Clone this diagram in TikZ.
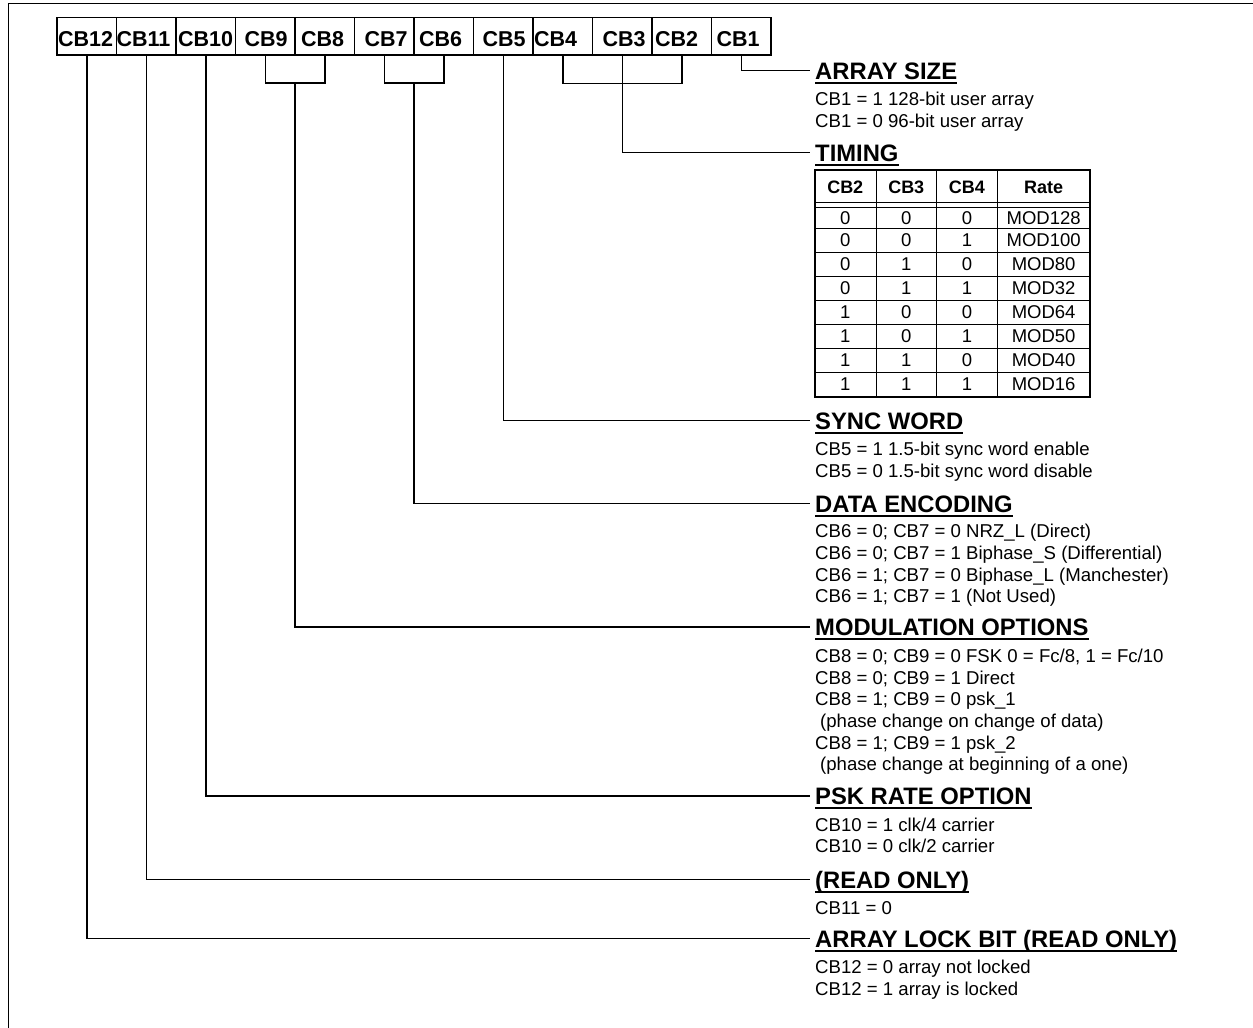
\documentclass[tikz,border=0pt]{standalone}
\usepackage{fontspec}
\setmainfont{Liberation Sans}
\begin{document}
\begin{tikzpicture}[x=1pt,y=-1pt,
  conn/.style={line width=1.5pt},
  cbbox/.style={draw, line width=1.3pt, minimum width=59.5pt, minimum height=37.5pt,
    inner xsep=0pt, inner ysep=0pt, text width=59.5pt, align=left,
    text height=21pt, text depth=0pt, font=\bfseries\fontsize{21.5}{24}\selectfont},
  title/.style={inner sep=0pt, anchor=west, text height=17pt, text depth=0pt,
    font=\bfseries\fontsize{23.8}{28}\selectfont},
  body/.style={inner sep=0pt, anchor=north west, align=left,
    font=\fontsize{18.6}{21.7}\selectfont},
  ul/.style={line width=2pt},
  thead/.style={anchor=base, inner sep=0pt, font=\bfseries\fontsize{18}{20}\selectfont},
  tcell/.style={anchor=base, inner sep=0pt, font=\fontsize{18.5}{20}\selectfont},
  touter/.style={line width=2pt},
  tinner/.style={line width=1pt}
]
\useasboundingbox (0,0) rectangle (1253,1028);
% frame
\draw[line width=1.5pt] (1253,3.5) -- (8.5,3.5) -- (8.5,1028);

% bit boxes
\foreach \n/\i/\o in {12/0/1, 11/1/0, 10/2/2, 9/3/9, 8/4/6, 7/5/10, 6/6/5, 5/7/9, 4/8/1, 3/9/10, 2/10/3, 1/11/5}
  \node[cbbox] (b\n) at ({57+59.5*(\i+0.5)}, 36.25) {\hspace*{\o pt}CB\n};

% titles
\node[title] (tA) at (815,70.5) {ARRAY SIZE};
\node[title] (tT) at (815,152.5) {TIMING};
\node[title] (tS) at (815,420.5) {SYNC WORD};
\node[title] (tD) at (815,503.5) {DATA ENCODING};
\node[title] (tM) at (815,627) {MODULATION OPTIONS};
\node[title] (tP) at (815,796) {PSK RATE OPTION};
\node[title] (tR) at (815,879.5) {(READ ONLY)};
\node[title] (tL) at (815,938.5) {ARRAY LOCK BIT (READ ONLY)};
\foreach \t in {tA,tT,tS,tD,tM,tP,tR,tL}
  \draw[ul] ([yshift=-3.5pt]\t.south west) -- ([yshift=-3.5pt]\t.south east);

% descriptions
\node[body] (dA) at (815,90.3) {\strut CB1 = 1 128-bit user array\\CB1 = 0 96-bit user array};
\node[body] (dS) at (815,440.3) {\strut CB5 = 1 1.5-bit sync word enable\\CB5 = 0 1.5-bit sync word disable};
\node[body] (dD) at (815,522.3) {\strut CB6 = 0; CB7 = 0 NRZ\_L (Direct)\\CB6 = 0; CB7 = 1 Biphase\_S (Differential)\\CB6 = 1; CB7 = 0 Biphase\_L (Manchester)\\CB6 = 1; CB7 = 1 (Not Used)};
\node[body] (dM) at (815,647) {\strut CB8 = 0; CB9 = 0 FSK 0 = Fc/8, 1 = Fc/10\\CB8 = 0; CB9 = 1 Direct\\CB8 = 1; CB9 = 0 psk\_1\\\hspace*{5pt}(phase change on change of data)\\CB8 = 1; CB9 = 1 psk\_2\\\hspace*{5pt}(phase change at beginning of a one)};
\node[body] (dP) at (815,815.8) {\strut CB10 = 1 clk/4 carrier\\CB10 = 0 clk/2 carrier};
\node[body] (dR) at (815,899.3) {\strut CB11 = 0};
\node[body] (dL) at (815,958.3) {\strut CB12 = 0 array not locked\\CB12 = 1 array is locked};

% connectors
\draw[conn] (b1.south) |- ([xshift=-5pt]tA.west);
\draw[conn] (b4.south) -- ++(0,28) -| (b2.south);
\draw[conn] (b3.south) |- ([xshift=-5pt]tT.west);
\draw[conn] (b5.south) |- ([xshift=-5pt]tS.west);
\coordinate (j76) at (414,83);
\draw[conn] (b7.south) |- (j76) -| (b6.south);
\draw[conn] (j76) |- ([xshift=-5pt]tD.west);
\coordinate (j98) at (295,83);
\draw[conn] (b9.south) |- (j98) -| (b8.south);
\draw[conn] (j98) |- ([xshift=-5pt]tM.west);
\draw[conn] (b10.south) |- ([xshift=-5pt]tP.west);
\draw[conn] (b11.south) |- ([xshift=-5pt]tR.west);
\draw[conn] (b12.south) |- ([xshift=-5pt]tL.west);

% timing table
\draw[touter] (814.5,170) rectangle (1090,396.5);
\foreach \x in {876,936.5,997.3} \draw[tinner] (\x,170) -- (\x,396.5);
\draw[tinner] (814.5,202.7) -- (1090,202.7);
\draw[tinner] (814.5,207.3) -- (1090,207.3);
\foreach \y in {228.3,252.3,276.3,300.3,324.3,348.3,372.3} \draw[tinner] (814.5,\y) -- (1090,\y);
\node[thead] (h1) at (845.25,193.3) {CB2};
\node[thead] (h2) at (906.25,193.3) {CB3};
\node[thead] (h3) at (966.9,193.3) {CB4};
\node[thead] (h4) at (1043.65,193.3) {Rate};
\foreach \k/\a/\b/\c/\r/\yb in {1/0/0/0/MOD128/224.5, 2/0/0/1/MOD100/246.7, 3/0/1/0/MOD80/270.7, 4/0/1/1/MOD32/294.7, 5/1/0/0/MOD64/318.7, 6/1/0/1/MOD50/342.7, 7/1/1/0/MOD40/366.7, 8/1/1/1/MOD16/390.7} {
  \node[tcell] (r\k a) at (845.25,\yb) {\a};
  \node[tcell] (r\k b) at (906.25,\yb) {\b};
  \node[tcell] (r\k c) at (966.9,\yb) {\c};
  \node[tcell] (r\k d) at (1043.65,\yb) {\r};
}
\end{tikzpicture}
\end{document}
